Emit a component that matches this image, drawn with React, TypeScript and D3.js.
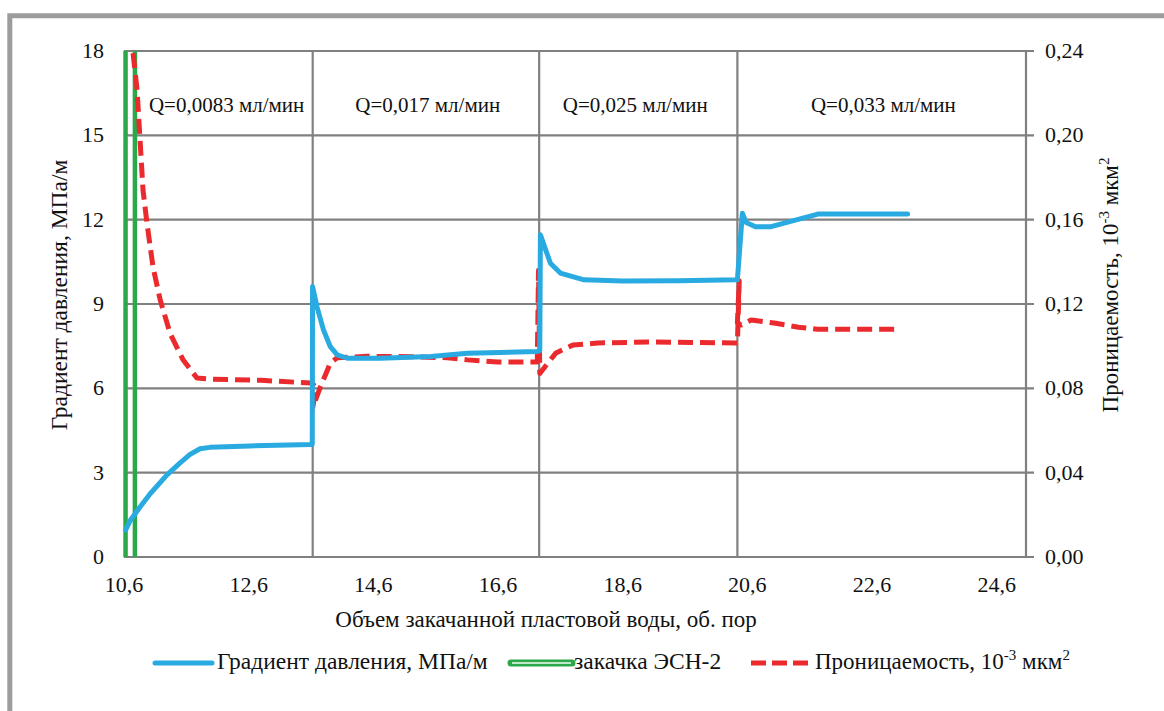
import React from "react";
import * as d3 from "d3";

// ---- data ----
const xTicks = [10.6, 12.6, 14.6, 16.6, 18.6, 20.6, 22.6, 24.6];
const yLeftTicks = [0, 3, 6, 9, 12, 15, 18];
const yRightTicks = [0, 0.04, 0.08, 0.12, 0.16, 0.2, 0.24];

// pressure gradient, MPa/m
const gradX = [10.627, 10.7, 10.86, 11.02, 11.29, 11.5, 11.66, 11.82, 11.98, 12.62, 13.6, 13.62,
  13.625, 13.696, 13.8, 13.91, 14.02, 14.18, 14.71, 15.52, 16.11, 17.23, 17.27,
  17.28, 17.44, 17.6, 17.98, 18.6, 19.5, 20.42, 20.44,
  20.52, 20.58, 20.73, 20.98, 21.4, 21.73, 22.5, 23.17];
const gradY = [0.96, 1.3, 1.79, 2.25, 2.92, 3.35, 3.65, 3.85, 3.9, 3.95, 4.0, 4.0,
  9.62, 8.9, 8.08, 7.48, 7.19, 7.07, 7.07, 7.13, 7.25, 7.31, 7.35,
  11.46, 10.45, 10.1, 9.86, 9.82, 9.83, 9.86, 9.86,
  12.23, 11.9, 11.75, 11.75, 12.0, 12.2, 12.2, 12.2];

// permeability, 10^-3 um^2
const permX = [10.745, 10.81, 10.857, 10.905, 10.97, 11.066, 11.18, 11.34, 11.55, 11.77, 11.98, 12.8, 13.6,
  13.68, 13.63, 13.75, 13.91, 14.02, 14.5, 15.2, 15.79, 16.11, 16.59, 17.17, 17.23,
  17.25, 17.27, 17.4, 17.53, 17.8, 18.2, 19.0, 19.8, 20.4, 20.44,
  20.47, 20.44, 20.5, 20.66, 21.03, 21.42, 21.73, 23.02];
const permY = [0.239, 0.2215, 0.198, 0.174, 0.158, 0.1375, 0.122, 0.106, 0.0934, 0.0849, 0.0844, 0.0838, 0.0825,
  0.0808, 0.0712, 0.0806, 0.092, 0.0945, 0.0952, 0.095, 0.0945, 0.0935, 0.0925, 0.0925, 0.0925,
  0.136, 0.087, 0.092, 0.0968, 0.1005, 0.1015, 0.102, 0.1017, 0.1015, 0.1015,
  0.131, 0.111, 0.11, 0.1124, 0.111, 0.109, 0.108, 0.108];

// ESN-2 injection marker
const esnX = [10.625, 10.775];
const esnY = [0, 18];

// flow-rate stage boundaries
const stageX = [13.627, 17.26, 20.44];
const stageLabels = ["Q=0,0083 мл/мин", "Q=0,017 мл/мин", "Q=0,025 мл/мин", "Q=0,033 мл/мин"];
const stageLabelX = [11.0, 14.31, 17.64, 21.62];
const stageLabelY = 15.83;

const fmt = (v: number, d: number) => v.toFixed(d).replace(".", ",");

const FONT = '"Liberation Serif", "Times New Roman", serif';
const BLUE = "#29aae1";
const RED = "#eb2a2e";
const GREEN = "#2ba84a";
const GRID = "#808080";

export default function App() {
  const W = 1164, H = 711;
  const L = 124, R = 1026, T = 51, B = 557;
  const x = d3.scaleLinear().domain([10.6, 25.07]).range([L, R]);
  const yL = d3.scaleLinear().domain([0, 18]).range([B, T]);
  const yR = d3.scaleLinear().domain([0, 0.24]).range([B, T]);

  const gradLine = d3.line<number>().x((_, i) => x(gradX[i])).y((v) => yL(v));
  const permLine = d3.line<number>().x((_, i) => x(permX[i])).y((v) => yR(v));

  return (
    <svg width={W} height={H} style={{ position: "absolute", left: 0, top: 0, background: "#fff" }}
      fontFamily={FONT}>
      <rect x={0} y={0} width={W} height={H} fill="#fff" />
      {/* frame */}
      <path d={`M9.8,${H + 5} L9.8,15.8 L${W + 5},15.8`} fill="none" stroke="#9c9c9c" strokeWidth={5} />

      {/* horizontal grid */}
      {yLeftTicks.map((t) => (
        <line key={"g" + t} x1={L} x2={R + 8} y1={yL(t)} y2={yL(t)} stroke={GRID} strokeWidth={2.2} />
      ))}
      {/* right axis */}
      <line x1={R} x2={R} y1={T} y2={B} stroke={GRID} strokeWidth={2.2} />
      {/* stage lines */}
      {stageX.map((s) => (
        <line key={"s" + s} x1={x(s)} x2={x(s)} y1={yL(0)} y2={yL(18)} stroke={GRID} strokeWidth={2.2} />
      ))}

      {/* ESN-2 */}
      {esnX.map((e) => (
        <line key={"e" + e} x1={x(e)} x2={x(e)} y1={yL(esnY[0])} y2={yL(esnY[1])} stroke={GREEN} strokeWidth={4.5} />
      ))}

      {/* permeability */}
      <path d={permLine(permY) || ""} fill="none" stroke={RED} strokeWidth={5}
        strokeDasharray="15,7" strokeLinejoin="round" />
      {/* gradient */}
      <path d={gradLine(gradY) || ""} fill="none" stroke={BLUE} strokeWidth={5}
        strokeLinejoin="round" strokeLinecap="round" />

      {/* stage labels */}
      {stageLabels.map((s, i) => (
        <text key={s} x={x(stageLabelX[i])} y={yL(stageLabelY)} fontSize={21} fill="#111">{s}</text>
      ))}

      {/* left ticks */}
      {yLeftTicks.map((t) => (
        <text key={"l" + t} x={104} y={yL(t) + 7} fontSize={22} textAnchor="end" fill="#111">{t}</text>
      ))}
      {/* right ticks */}
      {yRightTicks.map((t) => (
        <text key={"r" + t} x={1045} y={yR(t) + 7} fontSize={22} fill="#111">{fmt(t, 2)}</text>
      ))}
      {/* x ticks */}
      {xTicks.map((t) => (
        <text key={"x" + t} x={x(t)} y={592} fontSize={22} textAnchor="middle" fill="#111">{fmt(t, 1)}</text>
      ))}

      {/* axis titles */}
      <text x={546} y={627} fontSize={23} textAnchor="middle" fill="#111">Объем закачанной пластовой воды, об. пор</text>
      <text transform="translate(67,295) rotate(-90)" fontSize={23.5} textAnchor="middle" fill="#111">Градиент давления, МПа/м</text>
      <text transform="translate(1118,285) rotate(-90)" fontSize={23} textAnchor="middle" fill="#111">
        Проницаемость, 10<tspan fontSize={15} dy={-9}>-3</tspan><tspan dy={9}> мкм</tspan><tspan fontSize={15} dy={-9}>2</tspan>
      </text>

      {/* legend */}
      <line x1={155} x2={212} y1={663} y2={663} stroke={BLUE} strokeWidth={5} strokeLinecap="round" />
      <text x={217} y={669} fontSize={23.5} fill="#111">Градиент давления, МПа/м</text>
      <line x1={511} x2={572} y1={663} y2={663} stroke={GREEN} strokeWidth={7} strokeLinecap="round" />
      <line x1={512} x2={571} y1={663} y2={663} stroke="#bfe8c8" strokeWidth={2} />
      <text x={574} y={669} fontSize={23.5} fill="#111">закачка ЭСН-2</text>
      <line x1={751} x2={809} y1={663} y2={663} stroke={RED} strokeWidth={5} strokeDasharray="15,6" />
      <text x={815} y={669} fontSize={23} fill="#111">
        Проницаемость, 10<tspan fontSize={15} dy={-9}>-3</tspan><tspan dy={9}> мкм</tspan><tspan fontSize={15} dy={-9}>2</tspan>
      </text>
    </svg>
  );
}
